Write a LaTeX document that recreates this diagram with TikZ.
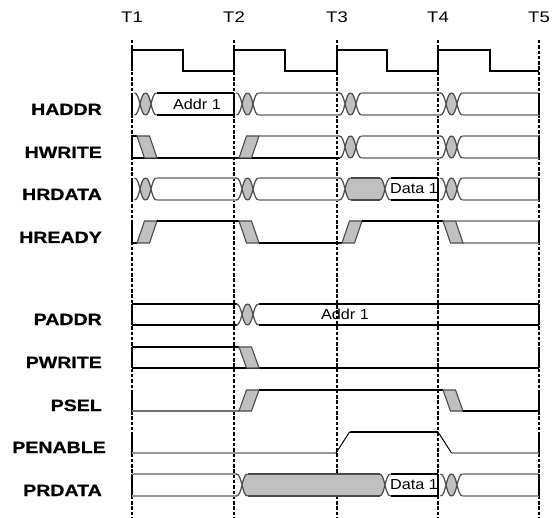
\documentclass[tikz,border=0pt]{standalone}
\usepackage{fontspec}
\newfontfamily\sigfont{Liberation Sans}[FakeStretch=1.2,FakeBold=0.7]
\newfontfamily\tfont{Liberation Sans}[FakeStretch=1.2]
\newfontfamily\valfont{Liberation Sans}[FakeStretch=1.12]

\definecolor{lensgrey}{RGB}{192,192,192}
\definecolor{edgegrey}{RGB}{75,75,75}
\definecolor{busgrey}{RGB}{150,150,150}
\definecolor{lowgrey}{RGB}{115,115,115}

% clock edges
\def\Ta{132}
\def\Tb{234}
\def\Tc{337}
\def\Td{438}
\def\Te{539}

\tikzset{
  sig/.style={line width=1.4pt, black},
  dontcare/.style={line width=1.6pt, busgrey},
  lowline/.style={line width=1.4pt, lowgrey},
  xline/.style={line width=1.2pt, edgegrey},
  lensfill/.style={fill=lensgrey},
  slantbox/.style={fill=lensgrey, draw=edgegrey, line width=1.1pt, line join=miter},
  tickline/.style={line width=1.1pt, dash pattern=on 3.5pt off 1.8pt},
  clk/.style={line width=1.4pt, line join=miter},
  slope/.style={line width=1pt, black},
  siglabel/.style={anchor=base east, inner sep=0pt, font=\sigfont\bfseries\fontsize{16.3}{18}\selectfont},
  tlabel/.style={inner sep=0pt, font=\tfont\fontsize{15.4}{17}\selectfont},
  valtext/.style={inner sep=0pt, font=\valfont\fontsize{14.5}{16}\selectfont},
}

% top and bottom rails of a bus between x1 and x2
\newcommand\busseg[5]{% style, x1, x2, top, bottom
  \draw[#1] ({#2},{#4}) -- ({#3},{#4}) ({#2},{#5}) -- ({#3},{#5});}

% solid edge of a row
\newcommand\rowbar[3]{% x, top, bottom
  \draw[sig] ({#1},{#2}) -- ({#1},{#3});}

% one crossing of the bus rails centred at x
\newcommand\xing[3]{% centre, top, bottom
  \draw[xline] ({#1-5.5},{#2}) .. controls ({#1},{#2}) and ({#1},{#3}) .. ({#1+5.5},{#3})
               ({#1-5.5},{#3}) .. controls ({#1},{#3}) and ({#1},{#2}) .. ({#1+5.5},{#2});}

% grey area enclosed between two crossings
\newcommand\greyfill[4]{% c1, c2, top, bottom
  \fill[lensfill] ({#1},{(#3+#4)/2})
    .. controls ({#1+1.375},{(3*#3+#4)/4}) and ({#1+2.75},{#3}) .. ({#1+5.5},{#3})
    -- ({#2-5.5},{#3})
    .. controls ({#2-2.75},{#3}) and ({#2-1.375},{(3*#3+#4)/4}) .. ({#2},{(#3+#4)/2})
    .. controls ({#2-1.375},{(#3+3*#4)/4}) and ({#2-2.75},{#4}) .. ({#2-5.5},{#4})
    -- ({#1+5.5},{#4})
    .. controls ({#1+2.75},{#4}) and ({#1+1.375},{(#3+3*#4)/4}) .. ({#1},{(#3+#4)/2}) -- cycle;}

% invalid (grey) bus value between two crossings
\newcommand\greyrun[4]{% c1, c2, top, bottom
  \greyfill{#1}{#2}{#3}{#4}
  \busseg{xline}{#1+5.5}{#2-5.5}{#3}{#4}
  \xing{#1}{#3}{#4}\xing{#2}{#3}{#4}}

% short invalid window after a clock edge
\newcommand\dblx[3]{% edge, top, bottom
  \greyrun{#1+8}{#1+19}{#2}{#3}}

% slanted transitions of single-bit signals
\newcommand\fallslope[3]{% edge, high, low
  \filldraw[slantbox] ({#1+5},{#2}) -- ({#1+17.5},{#2}) -- ({#1+25},{#3}) -- ({#1+12.5},{#3}) -- cycle;}
\newcommand\riseslope[3]{% edge, high, low
  \filldraw[slantbox] ({#1+5},{#3}) -- ({#1+17.5},{#3}) -- ({#1+25},{#2}) -- ({#1+12.5},{#2}) -- cycle;}

\begin{document}
\begin{tikzpicture}[x=1pt, y=-1pt]
\useasboundingbox (0,0) rectangle (556,518);

% clock edge markers
\foreach \t/\n in {\Ta/1,\Tb/2,\Tc/3,\Td/4,\Te/5} {
  \draw[tickline] (\t,40) -- (\t,518);
  \node[tlabel] (T\n) at (\t,17) {T\n};
}

% clock
\draw[clk] (\Ta,71) -- (\Ta,50) -- (183,50) -- (183,71) -- (\Tb,71) -- (\Tb,50)
  -- (285,50) -- (285,71) -- (\Tc,71) -- (\Tc,50) -- (387,50) -- (387,71)
  -- (\Td,71) -- (\Td,50) -- (490,50) -- (490,71) -- (\Te,71);

% ---------------- AHB side ----------------
% HADDR
\node[siglabel] (haddr) at (102,115) {HADDR};
\rowbar{\Ta}{93}{115}
\dblx{\Ta}{93}{115}
\busseg{sig}{\Ta+24.5}{\Tb}{93}{115}
\rowbar{\Tb}{93}{115}
\node[valtext] (haddrval) at (197,104) {Addr 1};
\dblx{\Tb}{93}{115}
\busseg{dontcare}{\Tb+24.5}{\Tc+2.5}{93}{115}
\dblx{\Tc}{93}{115}
\busseg{dontcare}{\Tc+24.5}{\Td+2.5}{93}{115}
\dblx{\Td}{93}{115}
\busseg{dontcare}{\Td+24.5}{\Te}{93}{115}
\rowbar{\Te}{93}{115}

% HWRITE
\node[siglabel] (hwrite) at (102,158) {HWRITE};
\draw[dontcare] ({\Tb+25},136) -- ({\Tc+2.5},136);
\draw[sig] (\Ta,136) -- ({\Ta+5},136);
\draw[sig] (\Ta,158) -- ({\Tc+2.5},158);
\rowbar{\Ta}{136}{158}
\fallslope{\Ta}{136}{158}
\riseslope{\Tb}{136}{158}
\dblx{\Tc}{136}{158}
\busseg{dontcare}{\Tc+24.5}{\Td+2.5}{136}{158}
\dblx{\Td}{136}{158}
\busseg{dontcare}{\Td+24.5}{\Te}{136}{158}
\rowbar{\Te}{136}{158}

% HRDATA
\node[siglabel] (hrdata) at (102,200) {HRDATA};
\rowbar{\Ta}{178}{200}
\dblx{\Ta}{178}{200}
\busseg{dontcare}{\Ta+24.5}{\Tb+2.5}{178}{200}
\dblx{\Tb}{178}{200}
\busseg{dontcare}{\Tb+24.5}{\Tc+2.5}{178}{200}
\greyrun{\Tc+8}{385}{178}{200}
\busseg{sig}{390.5}{\Td}{178}{200}
\rowbar{\Td}{178}{200}
\node[valtext] (hrdataval) at (414,189) {Data 1};
\dblx{\Td}{178}{200}
\busseg{dontcare}{\Td+24.5}{\Te}{178}{200}
\rowbar{\Te}{178}{200}

% HREADY
\node[siglabel] (hready) at (102,243) {HREADY};
\rowbar{\Ta}{221}{243}
\draw[sig] (\Ta,243) -- ({\Ta+5},243);
\riseslope{\Ta}{221}{243}
\draw[sig] ({\Ta+25},221) -- ({\Tb+5},221);
\fallslope{\Tb}{221}{243}
\draw[sig] ({\Tb+25},243) -- ({\Tc+5},243);
\riseslope{\Tc}{221}{243}
\draw[sig] ({\Tc+25},221) -- ({\Td+5},221);
\draw[dontcare] ({\Td+17.5},221) -- (\Te,221);
\draw[dontcare] ({\Td+25},243) -- (\Te,243);
\fallslope{\Td}{221}{243}
\rowbar{\Te}{221}{243}

% ---------------- APB side ----------------
% PADDR
\node[siglabel] (paddr) at (102,325) {PADDR};
\rowbar{\Ta}{304}{325}
\busseg{sig}{\Ta}{\Tb+2.5}{304}{325}
\dblx{\Tb}{304}{325}
\busseg{sig}{\Tb+24.5}{\Te}{304}{325}
\rowbar{\Te}{304}{325}
\node[valtext] (paddrval) at (345,314.5) {Addr 1};

% PWRITE
\node[siglabel] (pwrite) at (102,368) {PWRITE};
\rowbar{\Ta}{347}{368}
\draw[sig] (\Ta,347) -- ({\Tb+5},347);
\draw[sig] (\Ta,368) -- (\Te,368);
\fallslope{\Tb}{347}{368}
\rowbar{\Te}{347}{368}

% PSEL
\node[siglabel] (psel) at (102,411) {PSEL};
\rowbar{\Ta}{390}{411}
\draw[lowline] (\Ta,411) -- ({\Tb+5},411);
\riseslope{\Tb}{390}{411}
\draw[sig] ({\Tb+25},390) -- ({\Td+5},390);
\fallslope{\Td}{390}{411}
\draw[sig] ({\Td+25},411) -- (\Te,411);
\rowbar{\Te}{390}{411}

% PENABLE
\node[siglabel] (penable) at (106,453) {PENABLE};
\rowbar{\Ta}{432}{453}
\draw[dontcare, line width=1.4pt] (\Ta,453) -- ({\Tc-1},453);
\draw[slope] ({\Tc-1},453) -- ({\Tc+12.5},432);
\draw[sig] ({\Tc+12.5},432) -- (\Td,432);
\draw[slope] (\Td,432) -- ({\Td+13.5},453);
\draw[dontcare, line width=1.4pt] ({\Td+13.5},453) -- (\Te,453);
\rowbar{\Te}{432}{453}

% PRDATA
\node[siglabel] (prdata) at (102,496) {PRDATA};
\rowbar{\Ta}{474}{496}
\busseg{dontcare}{\Ta}{\Tb+2.5}{474}{496}
\greyrun{\Tb+8}{385}{474}{496}
\busseg{sig}{390.5}{\Td}{474}{496}
\rowbar{\Td}{474}{496}
\node[valtext] (prdataval) at (414,485) {Data 1};
\dblx{\Td}{474}{496}
\busseg{dontcare}{\Td+24.5}{\Te}{474}{496}
\rowbar{\Te}{474}{496}
\end{tikzpicture}
\end{document}
